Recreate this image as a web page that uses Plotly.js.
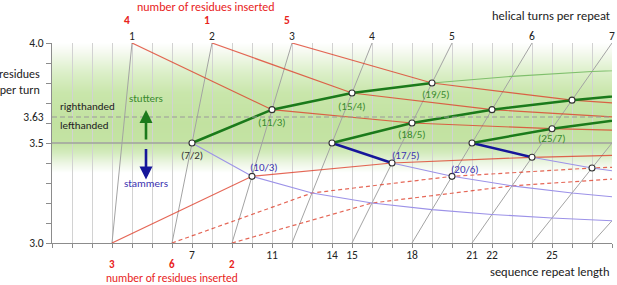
<!DOCTYPE html>
<html><head><meta charset="utf-8">
<script src="https://cdn.plot.ly/plotly-3.0.1.min.js"></script>
<style>html,body{margin:0;padding:0;background:#fff}#chart{width:617px;height:285px}</style>
</head><body><div id="chart"></div>
<script>
// ---------------- DATA ----------------
const repeatRange = [0, 28];
const rptRange = [3.0, 4.0];
const repeatTickLabels = [7, 11, 14, 15, 18, 21, 22, 25, 28];
const turnTickVals = [4, 8, 12, 16, 20, 24, 28];
const turnTickText = ['1', '2', '3', '4', '5', '6', '7'];
const rptTickLabels = ['3.0', '3.5', '4.0'];
const handednessBoundary = 3.63;
const heptadRpt = 3.5;

// helical turn lines: n turns, from (3n, 3.0) to (4n, 4.0)
const turnLineStartX = [3, 6, 9, 12, 15, 18, 21, 24, 27];
const turnLineEndX = [4, 8, 12, 16, 20, 24, 28, 32, 36];

// number of residues inserted (red)
const ins4X = [4, 11, 18, 25, 32];  const ins4Y = [4/1, 11/3, 18/5, 25/7, 32/9];
const ins1X = [8, 15, 22, 29];      const ins1Y = [8/2, 15/4, 22/6, 29/8];
const ins5X = [12, 19, 26, 33];     const ins5Y = [12/3, 19/5, 26/7, 33/9];
const ins3X = [3, 10, 17, 24, 31];  const ins3Y = [3/1, 10/3, 17/5, 24/7, 31/9];
const ins6X = [6, 13, 20, 27, 34];  const ins6Y = [6/2, 13/4, 20/6, 27/8, 34/10];
const ins2X = [9, 16, 23, 30];      const ins2Y = [9/3, 16/5, 23/7, 30/9];

// stutters (green)
const stut1BoldX = [7, 11, 15, 19];     const stut1BoldY = [7/2, 11/3, 15/4, 19/5];
const stut1ThinX = [19, 23, 27, 31];    const stut1ThinY = [19/5, 23/6, 27/7, 31/8];
const stut2BoldX = [14, 18, 22, 26, 30]; const stut2BoldY = [14/4, 18/5, 22/6, 26/7, 30/8];
const stut3BoldX = [21, 25, 29];        const stut3BoldY = [21/6, 25/7, 29/8];

// stammers (blue)
const stam1ThinX = [7, 10, 13, 16, 19, 22, 25, 28];
const stam1ThinY = [7/2, 10/3, 13/4, 16/5, 19/6, 22/7, 25/8, 28/9];
const stam2BoldX = [14, 17];            const stam2BoldY = [14/4, 17/5];
const stam2ThinX = [17, 20, 23, 26, 29]; const stam2ThinY = [17/5, 20/6, 23/7, 26/8, 29/9];
const stam3BoldX = [21, 24];            const stam3BoldY = [21/6, 24/7];
const stam3ThinX = [24, 27, 30];        const stam3ThinY = [24/7, 27/8, 30/9];

// marked points
const pointX = [7, 11, 15, 19, 10, 14, 17, 18, 20, 21, 22, 24, 25, 26, 27];
const pointY = [7/2, 11/3, 15/4, 19/5, 10/3, 14/4, 17/5, 18/5, 20/6, 21/6, 22/6, 24/7, 25/7, 26/7, 27/8];

// point labels
const greenLabelText = ['(11/3)', '(15/4)', '(19/5)', '(18/5)', '(25/7)'];
const greenLabelX = [11, 15, 19, 18, 25];
const greenLabelY = [11/3, 15/4, 19/5, 18/5, 25/7];
const blueLabelText = ['(10/3)', '(17/5)', '(20/6)'];
const blueLabelX = [10, 17, 20];
const blueLabelY = [10/3, 17/5, 20/6];
const heptadLabelText = '(7/2)';

// inserted-residue numbers at line ends
const topInsText = ['4', '1', '5'];   const topInsX = [4, 8, 12];
const botInsText = ['3', '6', '2'];   const botInsX = [3, 6, 9];

// ---------------- STYLE ----------------
const FONT = 'Carlito, Lato, "Open Sans", sans-serif';
const RED = 'rgba(222,60,40,0.78)';
const RED_TXT = '#e8231c';
const GREEN_BOLD = '#1b7a1b';
const GREEN_THIN = '#7fbf6c';
const BLUE_BOLD = '#16169a';
const BLUE_THIN = '#9c92e8';
const GREEN_TXT = '#3a8a2e';
const BLUE_TXT = '#3b32b0';
const AXIS = '#8c8c8c';

function line(x, y, color, width, dash, xa, ya) {
  return {type: 'scatter', mode: 'lines', x: x, y: y, line: {color: color, width: width, dash: dash || 'solid'},
    hoverinfo: 'skip', xaxis: xa || 'x', yaxis: ya || 'y'};
}

const traces = [];
const tX = [], tY = [];
turnLineStartX.forEach((s, i) => { tX.push(s, turnLineEndX[i], null); tY.push(rptRange[0], rptRange[1], null); });
traces.push(line(tX, tY, '#a3a3a3', 1));
traces.push(line(repeatRange, [heptadRpt, heptadRpt], '#a0a0a0', 1.3));
traces.push(line(ins4X, ins4Y, RED, 1.2));
traces.push(line(ins1X, ins1Y, RED, 1.2));
traces.push(line(ins5X, ins5Y, RED, 1.2));
traces.push(line(ins3X, ins3Y, RED, 1.2));
traces.push(line(ins6X, ins6Y, RED, 1.2, '4px,3px'));
traces.push(line(ins2X, ins2Y, RED, 1.2, '4px,3px'));
traces.push(line(stam1ThinX, stam1ThinY, BLUE_THIN, 1.1));
traces.push(line(stam2ThinX, stam2ThinY, BLUE_THIN, 1.1));
traces.push(line(stam3ThinX, stam3ThinY, BLUE_THIN, 1.1));
traces.push(line(stut1ThinX, stut1ThinY, GREEN_THIN, 1.1));
traces.push(line(stam2BoldX, stam2BoldY, BLUE_BOLD, 2.5));
traces.push(line(stam3BoldX, stam3BoldY, BLUE_BOLD, 2.5));
traces.push(line(stut1BoldX, stut1BoldY, GREEN_BOLD, 2.5));
traces.push(line(stut2BoldX, stut2BoldY, GREEN_BOLD, 2.5));
traces.push(line(stut3BoldX, stut3BoldY, GREEN_BOLD, 2.5));
traces.push({type: 'scatter', mode: 'markers', x: pointX, y: pointY, hoverinfo: 'skip',
  marker: {size: 6, color: '#ffffff', line: {color: '#333333', width: 1.1}}});
traces.push(line(repeatRange, [handednessBoundary, handednessBoundary], '#9a9a9a', 1.2, '5px,3px', 'x2', 'y2'));

// gradient background
const gradStops = [3.35, 3.40, 3.45, 3.50, 3.60, 3.75, 3.85, 3.95, 4.00];
const gradCols = [[255,255,255],[236,246,227],[212,235,190],[196,227,164],[194,226,160],[201,230,171],[219,239,200],[244,249,238],[255,255,255]];
function gcol(y) {
  for (let i = 0; i < gradStops.length - 1; i++) {
    if (y >= gradStops[i] && y <= gradStops[i+1]) {
      const t = (y - gradStops[i]) / (gradStops[i+1] - gradStops[i]);
      const c = gradCols[i].map((v, k) => Math.round(v + t * (gradCols[i+1][k] - v)));
      return 'rgb(' + c.join(',') + ')';
    }
  }
  return '#ffffff';
}
const shapes = [];
const N = 130;
for (let i = 0; i < N; i++) {
  const y0 = gradStops[0] + (rptRange[1] - gradStops[0]) * i / N;
  const y1 = gradStops[0] + (rptRange[1] - gradStops[0]) * (i + 1) / N;
  shapes.push({type: 'rect', xref: 'paper', yref: 'y', x0: 0, x1: 1, y0: y0, y1: y1 + 0.002,
    fillcolor: gcol((y0 + y1) / 2), line: {width: 0}, layer: 'below'});
}

// annotations
const ann = [];
const mk = (o) => Object.assign({showarrow: false, yanchor: 'middle', font: {family: FONT, size: 11, color: '#222'}}, o);
greenLabelText.forEach((t, i) => {
  const dx = [0, 0, 4, 0, 0][i], dy = [-13, -13, -11, -11, -10][i];
  ann.push(mk({x: greenLabelX[i], y: greenLabelY[i], text: t, xshift: dx, yshift: dy, font: {family: FONT, size: 11, color: GREEN_TXT}}));
});
blueLabelText.forEach((t, i) => {
  const dx = [12, 14, 13][i], dy = [9, 8, 7][i];
  ann.push(mk({x: blueLabelX[i], y: blueLabelY[i], text: t, xshift: dx, yshift: dy, font: {family: FONT, size: 11, color: BLUE_TXT}}));
});
ann.push(mk({x: 7, y: heptadRpt, text: heptadLabelText, yshift: -12, font: {family: FONT, size: 11, color: '#333'}}));
ann.push(mk({x: 0.3, y: 3.682, text: 'righthanded', xanchor: 'left'}));
ann.push(mk({x: 0.3, y: 3.587, text: 'lefthanded', xanchor: 'left'}));
ann.push(mk({x: 4.7, y: 3.722, text: 'stutters', font: {family: FONT, size: 11, color: GREEN_TXT}}));
ann.push(mk({x: 4.7, y: 3.296, text: 'stammers', font: {family: FONT, size: 11, color: BLUE_TXT}}));
ann.push({x: 4.7, y: 3.665, ax: 0, ay: 31, text: '', showarrow: true, arrowhead: 2, arrowsize: 1, arrowwidth: 2.6, arrowcolor: GREEN_BOLD, standoff: 0});
ann.push({x: 4.7, y: 3.318, ax: 0, ay: -32, text: '', showarrow: true, arrowhead: 2, arrowsize: 1, arrowwidth: 2.6, arrowcolor: BLUE_BOLD, standoff: 0});
ann.push(mk({xref: 'paper', yref: 'paper', x: -0.017, y: 0.805, xanchor: 'right', align: 'right', text: 'residues<br>per turn', font: {family: FONT, size: 12, color: '#222'}}));
ann.push(mk({xref: 'paper', yref: 'paper', x: 1, y: 1.14, xanchor: 'right', text: 'helical turns per repeat', font: {family: FONT, size: 12.5, color: '#222'}}));
ann.push(mk({xref: 'paper', yref: 'paper', x: 1, y: -0.14, xanchor: 'right', text: 'sequence repeat length', font: {family: FONT, size: 12.5, color: '#222'}}));
ann.push(mk({xref: 'x', yref: 'paper', x: 7.7, y: 1.178, text: 'number of residues inserted', font: {family: FONT, size: 12, color: RED_TXT}}));
ann.push(mk({xref: 'x', yref: 'paper', x: 6, y: -0.176, text: 'number of residues inserted', font: {family: FONT, size: 11.5, color: RED_TXT}}));
topInsText.forEach((t, i) => ann.push(mk({xref: 'x', yref: 'paper', x: topInsX[i], y: 1.115, xshift: -5, text: '<b>' + t + '</b>', font: {family: FONT, size: 11.5, color: RED_TXT}})));
botInsText.forEach((t, i) => ann.push(mk({xref: 'x', yref: 'paper', x: botInsX[i], y: -0.105, text: '<b>' + t + '</b>', font: {family: FONT, size: 11, color: RED_TXT}})));

// ticks
const allInts = [];
for (let i = repeatRange[0]; i <= repeatRange[1]; i++) allInts.push(i);
const xText = allInts.map(v => repeatTickLabels.includes(v) ? String(v) : '');
const yVals = [], yText = [];
for (let i = 0; i <= 10; i++) { const v = +(3 + i / 10).toFixed(1); yVals.push(v); const s = v.toFixed(1); yText.push(rptTickLabels.includes(s) ? s : ''); }

const layout = {
  width: 617, height: 285,
  margin: {l: 52, r: 5, t: 43, b: 42, pad: 0},
  paper_bgcolor: '#ffffff', plot_bgcolor: '#ffffff',
  font: {family: FONT, size: 11, color: '#222'},
  showlegend: false, hovermode: false,
  xaxis: {range: repeatRange, tickmode: 'array', tickvals: allInts, ticktext: xText, showgrid: true,
    gridcolor: '#d2d2d2', gridwidth: 1, showline: true, linecolor: AXIS, linewidth: 1, ticks: 'outside',
    ticklen: 4, tickcolor: AXIS, zeroline: false, ticklabelstandoff: -3, tickfont: {family: FONT, size: 11.5, color: '#222'}, fixedrange: true},
  xaxis2: {overlaying: 'x', side: 'top', range: repeatRange, tickmode: 'array', tickvals: turnTickVals,
    ticktext: turnTickText, showgrid: false, showline: false, ticks: '', zeroline: false,
    tickfont: {family: FONT, size: 11.5, color: '#222'}, fixedrange: true},
  yaxis: {range: rptRange, tickmode: 'array', tickvals: yVals, ticktext: yText, showgrid: false,
    showline: true, linecolor: AXIS, linewidth: 1, ticks: 'outside', ticklen: 5, tickcolor: AXIS,
    zeroline: false, tickfont: {family: FONT, size: 11.5, color: '#222'}, fixedrange: true},
  yaxis2: {overlaying: 'y', side: 'left', range: rptRange, tickmode: 'array', tickvals: [handednessBoundary],
    ticktext: [String(handednessBoundary)], showgrid: false, showline: false, ticks: 'outside', ticklen: 5,
    tickcolor: 'rgba(0,0,0,0)', zeroline: false, tickfont: {family: FONT, size: 11.5, color: '#222'}, fixedrange: true},
  shapes: shapes,
  annotations: ann
};

Plotly.newPlot('chart', traces, layout, {staticPlot: true, displayModeBar: false});
</script>
</body></html>
